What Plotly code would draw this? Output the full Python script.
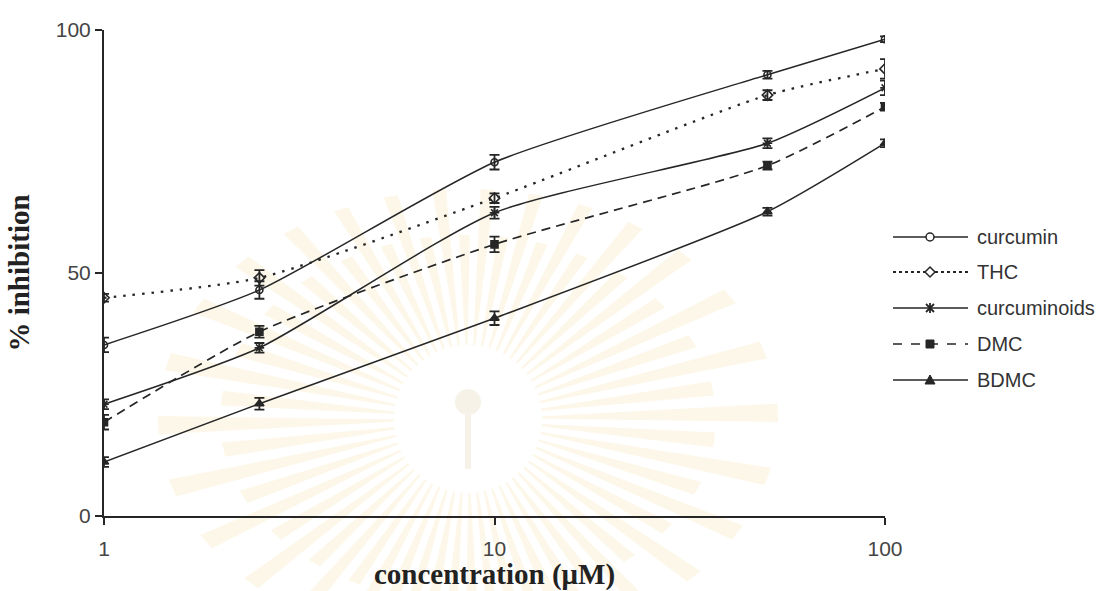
import math
import plotly.graph_objects as go

# Concentrations tested (µM) and mean % inhibition for each compound
conc = [1, 2.5, 10, 50, 100]
curcumin = [35.2, 46.5, 72.8, 90.8, 98.1]
thc = [44.9, 49.0, 65.4, 86.6, 92.0]
curcuminoids = [23.0, 34.6, 62.4, 76.7, 88.1]
dmc = [19.3, 37.9, 55.9, 72.1, 84.2]
bdmc = [11.1, 23.1, 40.7, 62.6, 76.7]

# Standard errors
curcumin_err = [1.5, 1.8, 1.5, 0.8, 0.6]
thc_err = [0.8, 1.6, 1.0, 1.0, 2.0]
curcuminoids_err = [1.0, 1.0, 1.2, 1.0, 1.5]
dmc_err = [1.5, 1.2, 1.6, 0.8, 0.8]
bdmc_err = [1.0, 1.2, 1.4, 0.8, 0.8]

series_names = ["curcumin", "THC", "curcuminoids", "DMC", "BDMC"]
x_ticks = [1, 10, 100]
y_ticks = [0, 50, 100]

INK = "#262626"

# Figure geometry (pixels)
W, H = 1111, 591
L, R, T, B = 104, 226, 30, 75
PW, PH = W - L - R, H - T - B


def px(x):
    return (x - L) / PW


def py(y):
    return (H - B - y) / PH


styles = [
    dict(y=curcumin, e=curcumin_err, dash="solid", sym="circle-open", size=7, lw=1.5),
    dict(y=thc, e=thc_err, dash="2.5px,7px", sym="diamond-open", size=8, lw=2.3),
    dict(y=curcuminoids, e=curcuminoids_err, dash="solid", sym="asterisk-open", size=8, lw=1.5),
    dict(y=dmc, e=dmc_err, dash="9px,6px", sym="square", size=7, lw=1.7),
    dict(y=bdmc, e=bdmc_err, dash="solid", sym="triangle-up", size=8, lw=1.5),
]

fig = go.Figure()

for name, s in zip(series_names, styles):
    fig.add_trace(go.Scatter(
        x=conc, y=s["y"], name=name, mode="lines+markers",
        line=dict(color=INK, width=s["lw"], dash=s["dash"], shape="spline", smoothing=0.6),
        marker=dict(symbol=s["sym"], size=s["size"], color=INK,
                    line=dict(color=INK, width=1.6)),
        error_y=dict(type="data", array=s["e"], visible=True, color=INK,
                     thickness=1.8, width=5),
        showlegend=False,
    ))

shapes = []

# Faint sunburst emblem behind the plot
cx, cy = px(468), py(419)
n_rays = 60
for k in range(n_rays):
    a = 2 * math.pi * k / n_rays + 0.02
    half = math.radians(1.7)
    scale = 1.0 if k % 2 == 0 else 0.8
    rx, ry = 310 * scale, 230 * scale
    r0 = 62
    pts = []
    for ang, rad in ((a - half * 0.35, r0), (a - half, None), (a + half, None), (a + half * 0.35, r0)):
        if rad is None:
            rr = 1.0 / math.sqrt((math.cos(ang) / rx) ** 2 + (math.sin(ang) / ry) ** 2)
        else:
            rr = rad
        pts.append((rr * math.cos(ang), rr * math.sin(ang)))
    path = "M" + " L".join(f"{x:.1f},{y:.1f}" for x, y in pts) + " Z"
    shapes.append(dict(type="path", xref="paper", yref="paper", xsizemode="pixel",
                       ysizemode="pixel", xanchor=cx, yanchor=cy, path=path,
                       fillcolor="rgba(240,215,140,0.2)", line=dict(width=0),
                       layer="below"))
shapes.append(dict(type="circle", xref="paper", yref="paper", xsizemode="pixel",
                   ysizemode="pixel", xanchor=cx, yanchor=cy, x0=-74, x1=74, y0=-74, y1=74,
                   fillcolor="white", line=dict(width=0), layer="below"))
shapes.append(dict(type="circle", xref="paper", yref="paper", xsizemode="pixel",
                   ysizemode="pixel", xanchor=cx, yanchor=cy, x0=-13, x1=13, y0=4, y1=30,
                   fillcolor="rgba(240,234,215,0.6)", line=dict(width=0), layer="below"))
shapes.append(dict(type="rect", xref="paper", yref="paper", xsizemode="pixel",
                   ysizemode="pixel", xanchor=cx, yanchor=cy, x0=-3, x1=3, y0=-50, y1=4,
                   fillcolor="rgba(240,234,215,0.6)", line=dict(width=0), layer="below"))

# Legend keys: line sample, marker and label
annotations = []
leg_rows = [237, 272, 308, 344, 380]
leg_x0, leg_x1, leg_mx, leg_tx = 893, 968, 930, 975
leg_dash = ["solid", "dot", "solid", "dash", "solid"]
for i, (name, yy) in enumerate(zip(series_names, leg_rows)):
    ly = py(yy)
    shapes.append(dict(type="line", xref="paper", yref="paper", x0=px(leg_x0), x1=px(leg_x1),
                       y0=ly, y1=ly, line=dict(color=INK, width=1.6 if leg_dash[i] != "dot" else 1.8,
                                               dash=leg_dash[i])))
    common = dict(xref="paper", yref="paper", xsizemode="pixel", ysizemode="pixel",
                  xanchor=px(leg_mx), yanchor=ly)
    if i == 0:
        shapes.append(dict(type="circle", x0=-4, x1=4, y0=-4, y1=4, fillcolor="white",
                           line=dict(color=INK, width=1.5), **common))
    elif i == 1:
        shapes.append(dict(type="path", path="M0,5 L5,0 L0,-5 L-5,0 Z", fillcolor="white",
                           line=dict(color=INK, width=1.5), **common))
    elif i == 2:
        shapes.append(dict(type="path", path="M-4,-4 L4,4 M-4,4 L4,-4 M0,-5 L0,5",
                           line=dict(color=INK, width=1.8), **common))
    elif i == 3:
        shapes.append(dict(type="rect", x0=-4, x1=4, y0=-4, y1=4, fillcolor=INK,
                           line=dict(color=INK, width=1), **common))
    else:
        shapes.append(dict(type="path", path="M-5,-4 L5,-4 L0,5 Z", fillcolor=INK,
                           line=dict(color=INK, width=1), **common))
    annotations.append(dict(xref="paper", yref="paper", x=px(leg_tx), y=ly, text=name,
                            xanchor="left", yanchor="middle", showarrow=False,
                            font=dict(family="Liberation Sans", size=20, color="#333")))

fig.update_layout(
    width=W, height=H,
    margin=dict(l=L, r=R, t=T, b=B),
    paper_bgcolor="white",
    plot_bgcolor="rgba(0,0,0,0)",
    shapes=shapes,
    annotations=annotations,
    xaxis=dict(
        type="log", range=[0, 2], tickvals=x_ticks, ticktext=[str(v) for v in x_ticks],
        showgrid=False, zeroline=False, showline=True, linecolor=INK, linewidth=2,
        ticks="outside", ticklen=7, tickwidth=2, tickcolor=INK, ticklabelstandoff=6,
        automargin=False,
        tickfont=dict(family="Liberation Sans", size=21, color="#444"),
        title=dict(text="concentration (μM)", standoff=10,
                   font=dict(family="Liberation Serif", size=29, color="#222", weight="bold")),
    ),
    yaxis=dict(
        range=[0, 100], tickvals=y_ticks, showgrid=False, zeroline=False,
        showline=True, linecolor=INK, linewidth=2, automargin=False,
        ticks="outside", ticklen=7, tickwidth=2, tickcolor=INK,
        tickfont=dict(family="Liberation Sans", size=21, color="#444"),
        title=dict(text="% inhibition", standoff=18,
                   font=dict(family="Liberation Serif", size=29, color="#222", weight="bold")),
    ),
    showlegend=False,
)

fig.write_html("out.html")
